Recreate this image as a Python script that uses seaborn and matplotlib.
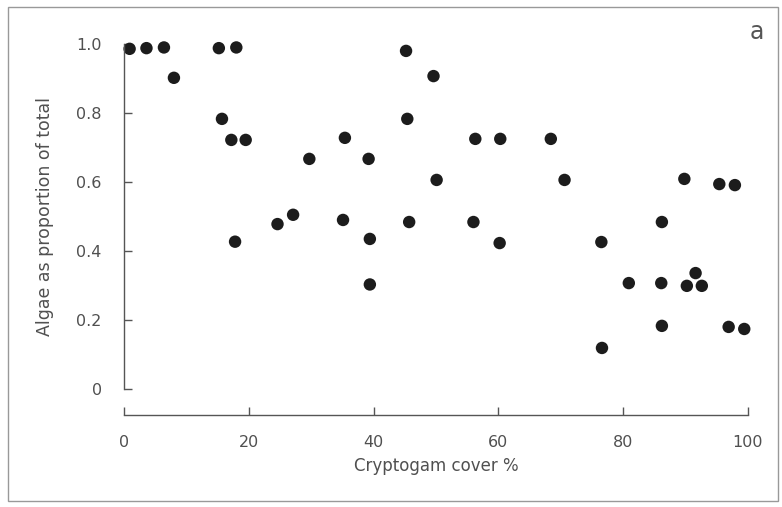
import matplotlib
matplotlib.use("Agg")
import matplotlib.pyplot as plt
import seaborn as sns
import pandas as pd
from matplotlib.patches import Rectangle

# Cryptogam cover (%) and algae proportion
cover = [0.9, 3.6, 6.4, 8.0, 15.2, 18.0, 15.7, 17.2, 19.5, 17.8,
         24.6, 27.1, 29.7, 35.4, 35.1, 39.2, 39.4, 39.4,
         45.2, 49.6, 45.4, 56.3, 60.3, 68.4, 50.1, 70.6, 89.8, 95.4, 97.9,
         45.7, 56.0, 86.2, 60.2, 76.5, 80.9, 86.1, 91.6, 90.2, 92.6,
         86.2, 96.9, 99.4, 76.6]
algae = [0.986, 0.988, 0.990, 0.902, 0.988, 0.990, 0.783, 0.722, 0.722, 0.427,
         0.478, 0.505, 0.667, 0.728, 0.490, 0.667, 0.435, 0.303,
         0.980, 0.907, 0.783, 0.725, 0.725, 0.725, 0.606, 0.606, 0.609, 0.594, 0.591,
         0.484, 0.484, 0.484, 0.423, 0.426, 0.307, 0.307, 0.336, 0.299, 0.299,
         0.183, 0.180, 0.174, 0.119]

xticks = [0, 20, 40, 60, 80, 100]
yticks = [0, 0.2, 0.4, 0.6, 0.8, 1.0]
ytick_labels = ["0", "0.2", "0.4", "0.6", "0.8", "1.0"]

df = pd.DataFrame({"cover": cover, "algae": algae})

sns.set_style("ticks")
plt.rcParams["font.family"] = ["DejaVu Sans"]

W, H = 782, 507
fig = plt.figure(figsize=(W / 100, H / 100), dpi=100)
ax = fig.add_axes([124 / W, (H - 389) / H, 624 / W, 345 / H])

sns.scatterplot(data=df, x="cover", y="algae", ax=ax, s=80,
                color="#1c1c1c", edgecolor="none", linewidth=0, clip_on=False)

ax.set_xlim(0, 100)
ax.set_ylim(0, 1.0)
ax.set_xticks(xticks)
ax.set_xticklabels([str(t) for t in xticks])
ax.set_yticks(yticks)
ax.set_yticklabels(ytick_labels)

grey = "#555555"
for side in ["top", "right"]:
    ax.spines[side].set_visible(False)
ax.spines["bottom"].set_position(("outward", 19))
for side in ["left", "bottom"]:
    ax.spines[side].set_color(grey)
    ax.spines[side].set_linewidth(1.0)

ax.tick_params(axis="both", direction="in", length=6, width=1.0,
               color=grey, labelcolor="#505050", labelsize=11.5)
ax.tick_params(axis="y", pad=16)
ax.tick_params(axis="x", pad=14)

ax.set_xlabel("Cryptogam cover %", fontsize=12, color="#505050", labelpad=5)
ax.set_ylabel("Algae as proportion of total", fontsize=12.5, color="#505050", labelpad=16)

fig.text(757 / W, 1 - 32 / H, "a", fontsize=17, color="#555555",
         ha="center", va="center")

fig.patches.append(Rectangle((8 / W, 6 / H), 770 / W, 494 / H,
                             transform=fig.transFigure, fill=False,
                             edgecolor="#999999", linewidth=1.0))

fig.savefig("out.png", dpi=100)
